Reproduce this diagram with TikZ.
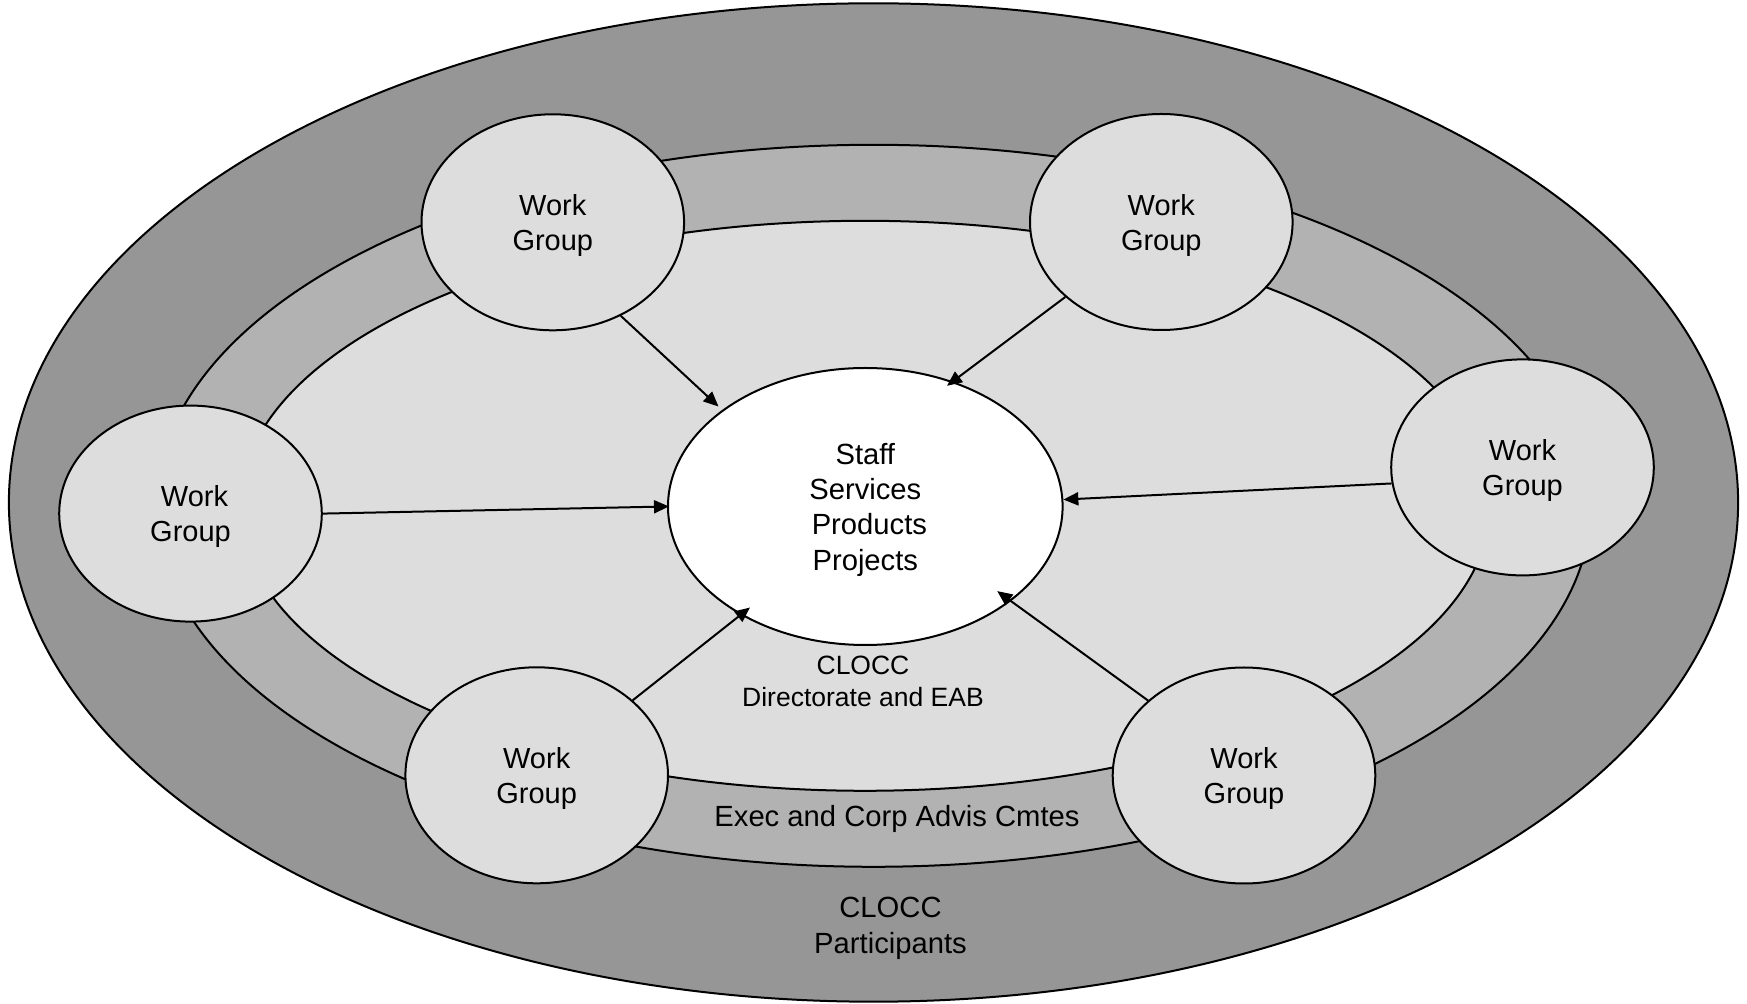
\documentclass[tikz,border=0pt]{standalone}
\usepackage{fontspec}
\setmainfont{Liberation Sans}
\usetikzlibrary{arrows.meta,shapes.geometric}
\definecolor{outergray}{RGB}{150,150,150}
\definecolor{bandgray}{RGB}{178,178,178}
\definecolor{innergray}{RGB}{221,221,221}
\newcommand\dropline[1]{\raisebox{-1.65pt}[\height][\depth]{#1}}
\begin{document}
\begin{tikzpicture}[x=0.5pt,y=-0.5pt,
  ring/.style={ellipse, draw=black, line width=1pt, inner sep=0pt},
  wg/.style={ellipse, draw=black, line width=1pt, fill=innergray,
    minimum width=131.3pt, minimum height=108pt, inner sep=0pt,
    align=center, font=\fontsize{14.5}{17.4}\selectfont},
  flow/.style={-{Triangle[length=7.5pt,width=6.5pt]}, line width=1pt},
  lbl/.style={align=center, inner sep=0pt}]
\useasboundingbox (0,0) rectangle (1747,1004);
% nested background rings
\node[ring, fill=outergray, minimum width=864.6pt, minimum height=499.2pt] (outer) at (873.5,502.5) {};
\node[ring, fill=bandgray, minimum width=717.4pt, minimum height=361pt] (band) at (873.5,505.8) {};
\node[ring, fill=innergray, minimum width=625pt, minimum height=285pt] (inner) at (865,505.8) {};
% labels on rings
\node[lbl, font=\fontsize{13.25}{16}\selectfont] (dir) at (863,681.2) {CLOCC\\Directorate and EAB};
\node[lbl, font=\fontsize{14.6}{18}\selectfont] (exec) at (897,819) {Exec and Corp Advis Cmtes};
\node[lbl, font=\fontsize{14.6}{18}\selectfont] (part) at (890.5,928) {CLOCC\\Participants};
% centre
\node[ring, fill=white, minimum width=197.3pt, minimum height=138.5pt,
  align=center, font=\fontsize{14.6}{17.6}\selectfont] (C) at (865.3,506.5)
  {\dropline{Staff}\\\dropline{Services}\\\dropline{\hspace*{0.278em}Products}\\\dropline{Projects}};
% work groups
\node[wg] (wg1) at (552.8,222.3) {\dropline{Work}\\\dropline{Group}};
\node[wg] (wg2) at (1161.3,222) {\dropline{Work}\\\dropline{Group}};
\node[wg] (wg3) at (190.5,513.6) {\dropline{\hspace*{0.278em}Work}\\\dropline{Group}};
\node[wg] (wg4) at (1522.5,467.4) {\dropline{Work}\\\dropline{Group}};
\node[wg] (wg5) at (536.7,775.3) {\dropline{Work}\\\dropline{Group}};
\node[wg] (wg6) at (1244,775.5) {\dropline{Work}\\\dropline{Group}};
% arrows
\draw[flow, shorten >=2.5pt] (wg1.306) -- (C.146);
\draw[flow, shorten >=-3.7pt] (wg2.218) -- (C.55);
\draw[flow, shorten >=-1pt] (wg3.0) -- (C.180);
\draw[flow] (wg4.187) -- (C.2);
\draw[flow, shorten >=-6pt] (wg5.38) -- (C.221);
\draw[flow, shorten >=-8.5pt] (wg6.142) -- (C.327);
\end{tikzpicture}
\end{document}
